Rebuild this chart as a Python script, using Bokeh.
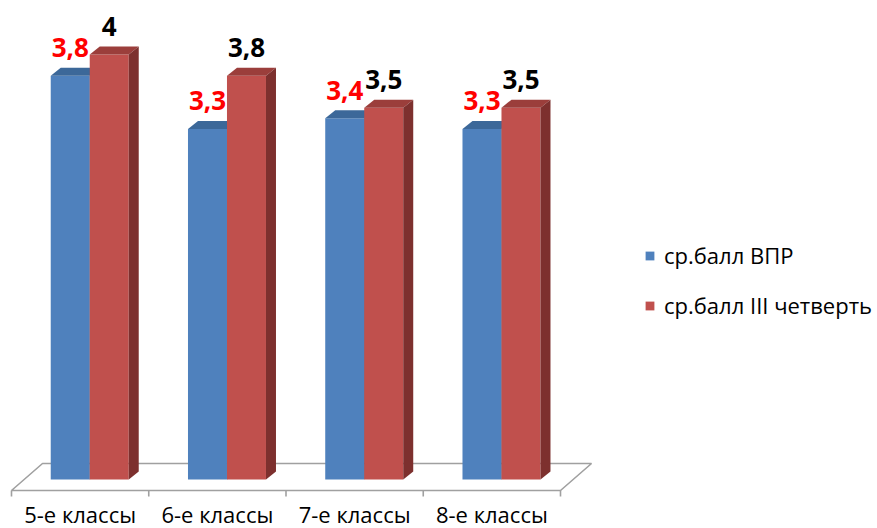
from bokeh.plotting import figure
from bokeh.models import Range1d, Legend, LegendItem
from bokeh.core.properties import value
from bokeh.embed import file_html
from bokeh.resources import INLINE

# ---- data ----
categories = ["5-е классы", "6-е классы", "7-е классы", "8-е классы"]
vpr = [3.8, 3.3, 3.4, 3.3]
quarter3 = [4.0, 3.8, 3.5, 3.5]
series_names = ["ср.балл ВПР", "ср.балл III четверть"]

# ---- style / geometry ----
BLUE, BLUE_TOP, BLUE_SIDE = "#4F81BD", "#3C6899", "#385D8A"
RED, RED_TOP, RED_SIDE = "#C0504D", "#9B3E3B", "#7D302E"
FONT = "Open Sans"
WIDTH, HEIGHT = 877, 528
px_x = 137.25   # px per category
px_y = 106.25   # px per value unit
X0, Y0 = 11, 479  # pixel of x=0 / y=0
W = 39 / px_x
DX = 10 / px_x
DY = 8 / px_y
OFF = 0.57      # bar centre inside category slot

p = figure(width=WIDTH, height=HEIGHT, output_backend="svg", toolbar_location=None,
           x_range=Range1d((0 - X0) / px_x, (WIDTH - X0) / px_x),
           y_range=Range1d((Y0 - HEIGHT) / px_y, Y0 / px_y),
           min_border=0)
p.axis.visible = False
p.grid.visible = False
p.outline_line_color = None

n = len(categories)
# floor
fy0, fy1 = -11 / px_y, 16 / px_y
foff = 31 / px_x
p.patch([0, n, n + foff, foff], [fy0, fy0, fy1, fy1],
        fill_color="white", line_color="#A0A0A0", line_width=1.6)
# ticks
p.segment(x0=list(range(n + 1)), y0=[fy0] * (n + 1), x1=list(range(n + 1)),
          y1=[fy0 - 6 / px_y] * (n + 1), line_color="#A0A0A0", line_width=1.6)


def bars(vals, left_shift, cf, ct, cs):
    lefts = [i + OFF + left_shift for i in range(n)]
    rights = [l + W for l in lefts]
    front = p.quad(left=lefts, right=rights, bottom=[0] * n, top=vals,
                   fill_color=cf, line_color=None)
    tops_x = [[l, r, r + DX, l + DX] for l, r in zip(lefts, rights)]
    tops_y = [[v, v, v + DY, v + DY] for v in vals]
    p.patches(tops_x, tops_y, fill_color=ct, line_color=None)
    side_x = [[r, r + DX, r + DX, r] for r in rights]
    side_y = [[0, DY, v + DY, v] for v in vals]
    p.patches(side_x, side_y, fill_color=cs, line_color=None)
    return front, [(l + r) / 2 for l, r in zip(lefts, rights)]


r1, c1 = bars(vpr, -W, BLUE, BLUE_TOP, BLUE_SIDE)
r2, c2 = bars(quarter3, 0, RED, RED_TOP, RED_SIDE)

fmt = lambda v: (f"{v:g}").replace(".", ",")
gap = 28 / px_y
p.text(x=c1, y=[v + gap for v in vpr], text=[fmt(v) for v in vpr],
       text_font=value(FONT), text_font_style="bold", text_font_size="26px",
       text_color="#FF0000", text_align="center", text_baseline="middle")
p.text(x=c2, y=[v + gap for v in quarter3], text=[fmt(v) for v in quarter3],
       text_font=value(FONT), text_font_style="bold", text_font_size="26px",
       text_color="#000000", text_align="center", text_baseline="middle")

# category labels
p.text(x=[i + 0.5 for i in range(n)], y=[(Y0 - 513) / px_y] * n, text=categories,
       text_font=value(FONT), text_font_size="22px", text_color="#000000",
       text_align="center", text_baseline="middle")

legend = Legend(items=[LegendItem(label=series_names[0], renderers=[r1]),
                       LegendItem(label=series_names[1], renderers=[r2])],
                location=(644, 208), orientation="vertical",
                glyph_width=11, glyph_height=11, label_standoff=9,
                label_text_font=FONT, label_text_font_size="22px",
                label_text_color="#000000", label_height=20, spacing=20,
                padding=0, margin=0, border_line_alpha=0, background_fill_alpha=0)
p.add_layout(legend)

open("out.html", "w").write(file_html(p, INLINE))
